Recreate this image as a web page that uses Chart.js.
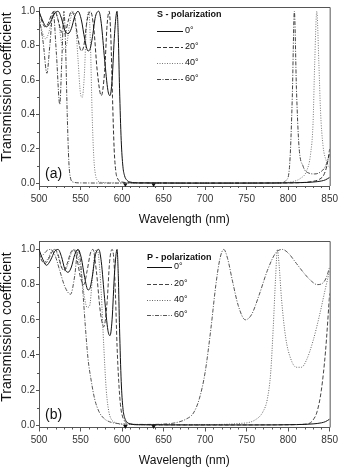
<!DOCTYPE html>
<html>
<head>
<meta charset="utf-8">
<script src="https://cdn.jsdelivr.net/npm/chart.js@4.4.1/dist/chart.umd.min.js"></script>
<style>
  html, body { margin: 0; padding: 0; background: #fff; }
  #wrap { position: relative; width: 341px; height: 468px; }
  .panel { position: absolute; left: 0; width: 341px; height: 234px; }
</style>
</head>
<body>
<div id="wrap">
  <div class="panel" style="top:0"><canvas id="chartS" width="341" height="234"></canvas></div>
  <div class="panel" style="top:234px"><canvas id="chartP" width="341" height="234"></canvas></div>
</div>
<script>
// ---- data (wavelength nm / transmission) ----
const angleLabels = ['0°', '20°', '40°', '60°'];

// (a) S - polarization
const sWl0  = [500,504,509,514,519,523,527,531,535,539,543,547,551,555,559,561,564,568,572,575,579,583,585.5,588,591,594,595.5,597,599,601,603,606,610,620,680,760,810,830,840,845,850];
const sT0   = [1.0,0.95,0.91,0.94,0.99,1.0,0.96,0.89,0.87,0.9,0.97,1.0,0.95,0.84,0.77,0.775,0.84,0.97,1.0,0.93,0.72,0.54,0.51,0.6,0.87,1.0,0.85,0.55,0.25,0.1,0.045,0.018,0.008,0.003,0.002,0.002,0.004,0.008,0.014,0.021,0.035];
const sWl20 = [500,503,507,511,516,519,523,527,531,535,539,543,547,551,554,558,562,566,570,575,579,582,584.5,586.5,588.5,590.5,592.5,595,600,610,700,800,820,830,838,843,847,850];
const sT20  = [0.99,0.95,0.91,0.93,0.99,1.0,0.95,0.88,0.87,0.94,1.0,0.96,0.84,0.77,0.8,0.95,1.0,0.9,0.66,0.51,0.65,0.92,1.0,0.85,0.5,0.2,0.07,0.025,0.008,0.004,0.002,0.003,0.006,0.012,0.025,0.05,0.11,0.2];
const sWl40 = [500,504,508,512,516,520,524,529,533,537,541,544,547,550,552,554.5,557,560,562,564,566,568,571,575,600,700,790,805,815,822,827,830,832,834.5,837,839,842,846,850];
const sT40  = [0.97,0.88,0.84,0.88,0.97,1.0,0.92,0.78,0.8,0.93,1.0,0.93,0.72,0.52,0.5,0.62,0.9,1.0,0.8,0.4,0.15,0.05,0.015,0.006,0.003,0.002,0.003,0.01,0.03,0.07,0.17,0.35,0.7,1.0,0.7,0.42,0.22,0.13,0.09];
const sWl60 = [500,505,509.5,513,517,521,525,527.5,530,532,534,536,538,541,550,600,700,790,798,802,805,807.5,810,813,818,825,832,840,845,850];
const sT60  = [0.97,0.82,0.64,0.8,1.0,0.75,0.46,0.72,1.0,0.8,0.4,0.12,0.03,0.008,0.003,0.002,0.002,0.003,0.02,0.12,0.5,1.0,0.55,0.22,0.1,0.06,0.055,0.07,0.1,0.17];

// (b) P - polarization
const pWl0  = [500,504,509,514,519,523,527,531,535,539,543,547,551,555,559,561,564,568,572,575,579,583,585.5,588,591,594,595.5,597,599,601,603,606,610,620,680,760,810,830,840,845,850];
const pT0   = [1.0,0.95,0.91,0.94,0.99,1.0,0.96,0.89,0.87,0.9,0.97,1.0,0.95,0.84,0.77,0.775,0.84,0.97,1.0,0.93,0.72,0.54,0.51,0.6,0.87,1.0,0.85,0.55,0.25,0.1,0.045,0.018,0.008,0.003,0.002,0.002,0.004,0.008,0.014,0.021,0.035];
const pWl20 = [500,503,507,511,515,519,523,527,530,534,538,542,546,550,554,558,562,565,569,574,578,582,585,588,590,592,594,596,598,600,603,608,615,700,800,815,825,830,835,840,845,850];
const pT20  = [0.98,0.94,0.92,0.94,0.98,1.0,0.97,0.9,0.88,0.92,0.98,1.0,0.94,0.84,0.8,0.88,0.98,1.0,0.88,0.64,0.56,0.7,0.93,1.0,0.95,0.75,0.45,0.25,0.12,0.06,0.025,0.01,0.005,0.002,0.003,0.005,0.01,0.03,0.08,0.2,0.42,0.75];
const pWl40 = [500,503,507,511,515,519,523,527,531,535,539,543,547,551,555,558,561,564,567,570,572,575,578,581,584,587,592,600,650,700,740,760,770,775,779,782,785,787,789,792,797,803,810,816,822,830,838,845,850];
const pT40  = [0.99,0.96,0.93,0.95,0.99,1.0,0.96,0.9,0.88,0.92,0.98,1.0,0.96,0.86,0.72,0.67,0.68,0.82,0.97,1.0,0.95,0.75,0.45,0.2,0.08,0.035,0.015,0.006,0.003,0.004,0.01,0.03,0.08,0.15,0.3,0.55,0.85,1.0,0.92,0.72,0.5,0.38,0.33,0.33,0.37,0.48,0.63,0.78,0.88];
const pWl60 = [500,505,510,514,519,525,531,538,543,547,550,553,556,559,563,567,572,578,585,595,610,630,650,665,677,686,693,700,707,713,718,722.5,727,733,740,748.5,756,765,775,785,793,800,810,820,828,835,842,846,850];
const pT60  = [0.95,0.97,0.995,1.0,0.97,0.88,0.79,0.745,0.85,1.0,0.93,0.75,0.55,0.38,0.25,0.15,0.08,0.04,0.02,0.01,0.006,0.005,0.007,0.015,0.035,0.07,0.15,0.3,0.55,0.8,0.95,1.0,0.95,0.82,0.68,0.6,0.63,0.74,0.88,0.98,1.0,0.98,0.92,0.86,0.82,0.8,0.81,0.84,0.9];

// little triangles on the wavelength axis
const markWl = [604, 638];
const markT  = [-0.006, -0.006];

const FONT = "'Liberation Sans', Arial, Helvetica, sans-serif";

const pts = (xs, ys) => xs.map((x, i) => ({ x, y: ys[i] }));

function lineSet(label, xs, ys, color, dash) {
  return {
    label, data: pts(xs, ys),
    borderColor: color, borderWidth: 1, borderDash: dash,
    pointRadius: 0, fill: false, cubicInterpolationMode: 'monotone'
  };
}

// frame, minor ticks, legend, panel letter, y title
const decor = {
  id: 'decor',
  afterDraw(chart, args, o) {
    const { ctx, chartArea: a, scales: { x, y } } = chart;
    ctx.save();
    ctx.strokeStyle = '#555';
    ctx.lineWidth = 1;
    ctx.beginPath();
    ctx.moveTo(a.left, a.top + 0.5);
    ctx.lineTo(a.right + 0.5, a.top + 0.5);
    ctx.lineTo(a.right + 0.5, a.bottom);
    ctx.stroke();

    ctx.beginPath();
    for (let v = 510; v < 850; v += 10) {
      if (v % 50 === 0) continue;
      const px = Math.round(x.getPixelForValue(v)) + 0.5;
      ctx.moveTo(px, a.bottom); ctx.lineTo(px, a.bottom + 2);
    }
    for (let k = 1; k < 10; k += 2) {
      const py = Math.round(y.getPixelForValue(k / 10)) + 0.5;
      ctx.moveTo(a.left - 2, py); ctx.lineTo(a.left, py);
    }
    ctx.stroke();

    // legend
    ctx.fillStyle = '#111';
    ctx.textAlign = 'left';
    ctx.textBaseline = 'middle';
    ctx.font = `bold 9px ${FONT}`;
    ctx.fillText(o.title, o.lx, o.ty);
    ctx.font = `9px ${FONT}`;
    for (let i = 0; i < 4; i++) {
      const ds = chart.data.datasets[i];
      const yy = o.rows[i];
      ctx.strokeStyle = ds.borderColor;
      ctx.setLineDash(ds.borderDash);
      ctx.beginPath();
      ctx.moveTo(o.lx, yy + 0.5);
      ctx.lineTo(o.lx + o.lw, yy + 0.5);
      ctx.stroke();
      ctx.setLineDash([]);
      ctx.fillText(ds.label, o.lx + o.lw + 2, yy);
    }

    ctx.font = `14px ${FONT}`;
    ctx.fillText(o.letter, 45, o.letterY);

    ctx.save();
    ctx.translate(7, o.titleY);
    ctx.rotate(-Math.PI / 2);
    ctx.textAlign = 'center';
    ctx.font = `14px ${FONT}`;
    ctx.fillText('Transmission coefficient', 0, 0);
    ctx.restore();

    ctx.restore();
  }
};

function makeChart(id, sets, lay) {
  const datasets = sets.concat([{
    type: 'scatter', label: 'mark', data: pts(markWl, markT),
    pointStyle: 'triangle', rotation: 180, pointRadius: 2.6,
    backgroundColor: '#111', borderColor: '#111', borderWidth: 0, clip: false
  }]);
  return new Chart(document.getElementById(id), {
    type: 'line',
    data: { datasets },
    options: {
      responsive: false,
      animation: false,
      layout: { padding: { top: lay.top, right: 10, left: 0, bottom: 0 } },
      plugins: { legend: { display: false }, tooltip: { enabled: false }, decor: lay.decor },
      scales: {
        x: {
          type: 'linear', min: 500, max: 850,
          ticks: { stepSize: 50, color: '#333', padding: 3, maxRotation: 0, font: { family: FONT, size: 10 } },
          grid: { drawOnChartArea: false, tickLength: 4, color: '#555' },
          border: { color: '#555' },
          title: { display: true, text: 'Wavelength (nm)', color: '#111',
                   font: { family: FONT, size: 12 }, padding: { top: 0, bottom: lay.titlePad } },
          afterFit: s => { s.height = lay.xh; }
        },
        y: {
          min: lay.ymin, max: lay.ymax,
          ticks: { stepSize: 0.2, includeBounds: false, color: '#333', padding: 1,
                   font: { family: FONT, size: 10 }, callback: v => v.toFixed(1) },
          grid: { drawOnChartArea: false, tickLength: 3, color: '#555' },
          border: { color: '#555' },
          afterFit: s => { s.width = 39; }
        }
      }
    },
    plugins: [decor]
  });
}

makeChart('chartS', [
  lineSet(angleLabels[0], sWl0, sT0, '#111', []),
  lineSet(angleLabels[1], sWl20, sT20, '#333', [4, 2]),
  lineSet(angleLabels[2], sWl40, sT40, '#777', [1, 1.5]),
  lineSet(angleLabels[3], sWl60, sT60, '#444', [4, 1.5, 1, 1.5])
], {
  top: 2, xh: 48, titlePad: 7, ymin: -0.015, ymax: 1.025,
  decor: { title: 'S - polarization', lx: 157, lw: 26, ty: 15, rows: [31, 47, 63, 79],
           letter: '(a)', letterY: 174, titleY: 87 }
});

makeChart('chartP', [
  lineSet(angleLabels[0], pWl0, pT0, '#111', []),
  lineSet(angleLabels[1], pWl20, pT20, '#444', [4, 2]),
  lineSet(angleLabels[2], pWl40, pT40, '#666', [1, 1.5]),
  lineSet(angleLabels[3], pWl60, pT60, '#555', [4, 1.5, 1, 1.5])
], {
  top: 7, xh: 40.5, titlePad: 0, ymin: -0.0125, ymax: 1.048,
  decor: { title: 'P - polarization', lx: 147, lw: 25, ty: 24, rows: [33, 50, 66, 81],
           letter: '(b)', letterY: 181, titleY: 93 }
});
</script>
</body>
</html>
